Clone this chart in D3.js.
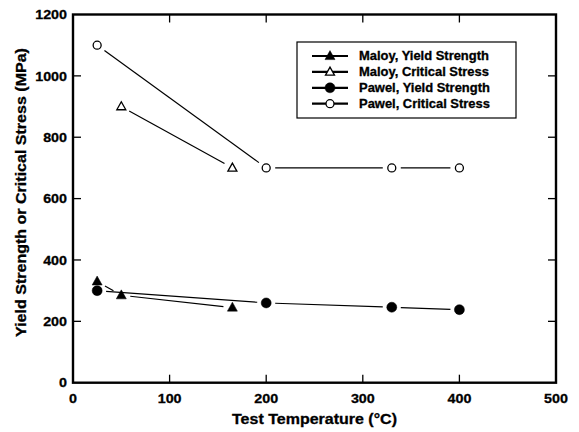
<!DOCTYPE html>
<html><head><meta charset="utf-8">
<script src="https://cdn.jsdelivr.net/npm/d3@7"></script>
<style>body{margin:0;background:#fff}svg{display:block}text{font-family:"Liberation Sans",Arial,sans-serif;font-weight:bold;fill:#000;stroke:#000;stroke-width:0.3}</style>
</head><body><svg id="c" width="579" height="432"></svg>
<script>
const xTicks=[0,100,200,300,400,500];
const yTicks=[0,200,400,600,800,1000,1200];
const maloyYieldT=[25,50,165], maloyYield=[330,285,245];
const maloyCritT=[50,165], maloyCrit=[900,700];
const pawelYieldT=[25,200,330,400], pawelYield=[300,260,246,238];
const pawelCritT=[25,200,330,400], pawelCrit=[1100,700,700,700];
const seriesNames=["Maloy, Yield Strength","Maloy, Critical Stress","Pawel, Yield Strength","Pawel, Critical Stress"];

const series=[
 {name:seriesNames[0],t:maloyYieldT,v:maloyYield,shape:"tri",fill:true},
 {name:seriesNames[1],t:maloyCritT,v:maloyCrit,shape:"tri",fill:false},
 {name:seriesNames[2],t:pawelYieldT,v:pawelYield,shape:"circ",fill:true},
 {name:seriesNames[3],t:pawelCritT,v:pawelCrit,shape:"circ",fill:false}
];
const svg=d3.select("#c");
const L=73,R=556,T=14.5,B=382.7;
const x=d3.scaleLinear().domain([0,500]).range([L,R]);
const y=d3.scaleLinear().domain([0,1200]).range([B,T]);
const g=svg.append("g");
function marker(sel,s,cx,cy){
  if(s.shape==="circ"){
    const r=s.fill?5:4;
    sel.append("circle").attr("cx",cx).attr("cy",cy).attr("r",r)
      .attr("fill",s.fill?"#000":"#fff").attr("stroke","#000").attr("stroke-width",s.fill?0.5:1.3);
  } else {
    const h=s.fill?9:8, w=s.fill?10:9;
    const p=[[cx,cy-h*0.6],[cx+w/2,cy+h*0.4],[cx-w/2,cy+h*0.4]];
    sel.append("path").attr("d","M"+p.map(q=>q.join(",")).join("L")+"Z")
      .attr("fill",s.fill?"#000":"#fff").attr("stroke","#000").attr("stroke-width",s.fill?0.5:1.3);
  }
}
series.forEach(s=>{
  const pts=s.t.map((t,i)=>[x(t),y(s.v[i])]);
  for(let i=0;i<pts.length-1;i++){
    const [x1,y1]=pts[i],[x2,y2]=pts[i+1];
    const d=Math.hypot(x2-x1,y2-y1),gap=9;
    if(d<=2*gap)continue;
    const ux=(x2-x1)/d,uy=(y2-y1)/d;
    g.append("line").attr("x1",x1+ux*gap).attr("y1",y1+uy*gap).attr("x2",x2-ux*gap).attr("y2",y2-uy*gap)
      .attr("stroke","#000").attr("stroke-width",1.2);
  }
  pts.forEach(p=>marker(g,s,p[0],p[1]));
});
svg.append("rect").attr("x",L).attr("y",T).attr("width",R-L).attr("height",B-T)
  .attr("fill","none").attr("stroke","#000").attr("stroke-width",2.4);
const tl=8;
function htext(px,py,anchor,size,sx,str){
  return svg.append("text").attr("transform",`translate(${px},${py}) scale(${sx},1)`)
    .attr("text-anchor",anchor).attr("font-size",size).text(str);
}
xTicks.forEach(t=>{
  if(t>0&&t<500){
    svg.append("line").attr("x1",x(t)).attr("x2",x(t)).attr("y1",B).attr("y2",B-tl).attr("stroke","#000").attr("stroke-width",1.3);
    svg.append("line").attr("x1",x(t)).attr("x2",x(t)).attr("y1",T).attr("y2",T+tl).attr("stroke","#000").attr("stroke-width",1.3);
  }
  htext(x(t),B+20.5,"middle",13,1.1,t);
});
yTicks.forEach(t=>{
  if(t>0&&t<1200){
    svg.append("line").attr("x1",L).attr("x2",L+tl).attr("y1",y(t)).attr("y2",y(t)).attr("stroke","#000").attr("stroke-width",1.3);
    svg.append("line").attr("x1",R).attr("x2",R-tl).attr("y1",y(t)).attr("y2",y(t)).attr("stroke","#000").attr("stroke-width",1.3);
  }
  htext(L-6,y(t)+4.7,"end",13,1.1,t);
});
const xt=htext((L+R)/2,424,"middle",14.5,1,"Test Temperature (°C)");
const xw=xt.node().getComputedTextLength();
xt.attr("transform",`translate(${(L+R)/2},424) scale(${165/xw},1)`);
const yt=svg.append("text").attr("text-anchor","middle").attr("font-size",14)
  .text("Yield Strength or Critical Stress (MPa)");
const yw=yt.node().getComputedTextLength();
yt.attr("transform",`translate(26,192.5) rotate(-90) scale(${289/yw},1)`);
const lg=svg.append("g");
lg.append("rect").attr("x",297).attr("y",42).attr("width",219).attr("height",76).attr("fill","#fff").attr("stroke","#000").attr("stroke-width",1.2);
series.forEach((s,i)=>{
  const yy=56+i*15.9;
  lg.append("line").attr("x1",312).attr("x2",348).attr("y1",yy).attr("y2",yy).attr("stroke","#000").attr("stroke-width",2.2);
  marker(lg,s,330,yy);
  lg.append("text").attr("transform",`translate(359,${yy+4.3}) scale(1.08,1)`).attr("font-size",12).text(s.name);
});
</script></body></html>
